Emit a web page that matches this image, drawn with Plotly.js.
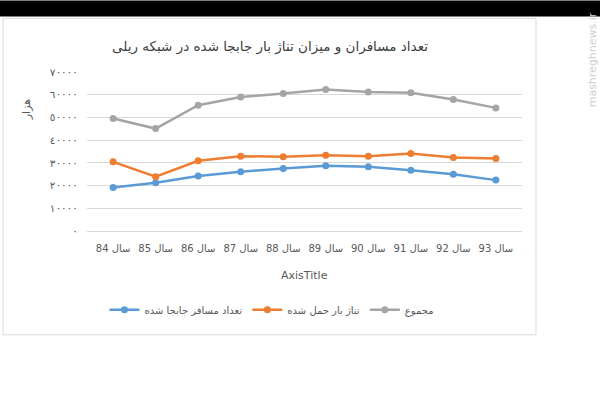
<!DOCTYPE html>
<html>
<head>
<meta charset="utf-8">
<script src="https://cdn.plot.ly/plotly-3.0.1.min.js"></script>
<style>html,body{margin:0;padding:0;background:#fff;}#chart{width:600px;height:418px;}</style>
</head>
<body>
<div id="chart"></div>
<script>
// Data
const categories = ["سال 84","سال 85","سال 86","سال 87","سال 88","سال 89","سال 90","سال 91","سال 92","سال 93"];
const passengers = [19200, 21200, 24200, 26050, 27550, 28700, 28250, 26800, 25000, 22400];
const freight    = [30450, 23900, 30900, 32950, 32650, 33400, 32950, 34100, 32400, 31900];
const total      = [49500, 45100, 55400, 59000, 60500, 62300, 61200, 60900, 57900, 54200];
const seriesNames = ["تعداد مسافر جابجا شده", "تناژ بار حمل شده", "مجموع"];
const yTickVals = [0, 10000, 20000, 30000, 40000, 50000, 60000, 70000];
const yTickText = ["٠", "١٠٠٠٠", "٢٠٠٠٠", "٣٠٠٠٠", "٤٠٠٠٠", "٥٠٠٠٠", "٦٠٠٠٠", "٧٠٠٠٠"];
const chartTitle = "تعداد مسافران و میزان تناژ بار جابجا شده در شبکه ریلی";
const xTitle = "AxisTitle";
const yTitle = "هزار";
const watermark = "mashreghnews.ir";

const colors = ["#5b9bd5", "#ed7d31", "#a5a5a5"];
const seriesData = [passengers, freight, total];

const traces = seriesData.map((vals, i) => ({
  type: "scatter",
  mode: "lines+markers",
  x: categories,
  y: vals,
  name: seriesNames[i],
  line: {color: colors[i], width: 2.5},
  marker: {color: colors[i], size: 7}
}));

// layout helpers: plot area px 87..522 (x), 71.7..231 (y)
const L = 87, R = 522, T = 71.7, B = 231;
const px = v => (v - L) / (R - L);
const py = v => (B - v) / (B - T);

const layout = {
  width: 600, height: 418,
  margin: {l: L, r: 600 - R, t: T, b: 418 - B, pad: 0},
  paper_bgcolor: "#ffffff",
  plot_bgcolor: "rgba(0,0,0,0)",
  showlegend: true,
  font: {family: "DejaVu Sans, sans-serif", color: "#595959", size: 10},
  xaxis: {
    type: "category",
    showgrid: false,
    showline: false,
    zeroline: false,
    ticks: "",
    tickfont: {size: 10, color: "#595959", family: "DejaVu Sans, sans-serif"},
    ticklabelstandoff: 10,
    fixedrange: true
  },
  yaxis: {
    range: [0, 70000],
    tickvals: yTickVals,
    ticktext: yTickText,
    showgrid: true,
    gridcolor: "#d9d9d9",
    gridwidth: 1,
    zeroline: true,
    zerolinecolor: "#d9d9d9",
    zerolinewidth: 1,
    showline: false,
    ticks: "",
    tickfont: {size: 10.5, color: "#595959", family: "DejaVu Sans, sans-serif"},
    ticklabelstandoff: 8,
    fixedrange: true
  },
  legend: {
    orientation: "h",
    x: px(272), xanchor: "center",
    y: py(310), yanchor: "middle",
    font: {size: 10, color: "#595959", family: "DejaVu Sans, sans-serif"},
    bgcolor: "rgba(0,0,0,0)",
    itemwidth: 30
  },
  shapes: [
    {type: "rect", xref: "paper", yref: "paper", layer: "below",
     x0: px(3), x1: px(536), y0: py(335), y1: py(18),
     fillcolor: "#ffffff", line: {color: "#d9d9d9", width: 1}},
    {type: "rect", xref: "paper", yref: "paper", layer: "above",
     x0: px(0), x1: px(600), y0: py(16), y1: py(0),
     fillcolor: "#000000", line: {width: 0}}
  ],
  annotations: [
    {text: chartTitle, xref: "paper", yref: "paper", x: px(270), y: py(46),
     xanchor: "center", yanchor: "middle", showarrow: false,
     font: {size: 13.5, color: "#404040", family: "DejaVu Sans, serif"}},
    {text: xTitle, xref: "paper", yref: "paper", x: px(304), y: py(276),
     xanchor: "center", yanchor: "middle", showarrow: false,
     font: {size: 11, color: "#595959", family: "DejaVu Sans, sans-serif"}},
    {text: yTitle, xref: "paper", yref: "paper", x: px(26), y: py(109),
     xanchor: "center", yanchor: "middle", showarrow: false, textangle: -90,
     font: {size: 11, color: "#595959", family: "DejaVu Sans, sans-serif"}},
    {text: watermark, xref: "paper", yref: "paper", x: px(592), y: py(60),
     xanchor: "center", yanchor: "middle", showarrow: false, textangle: -90,
     font: {size: 11, color: "#cfcfcf", family: "DejaVu Sans, sans-serif"}}
  ]
};

Plotly.newPlot("chart", traces, layout, {displayModeBar: false, staticPlot: true});
</script>
</body>
</html>
